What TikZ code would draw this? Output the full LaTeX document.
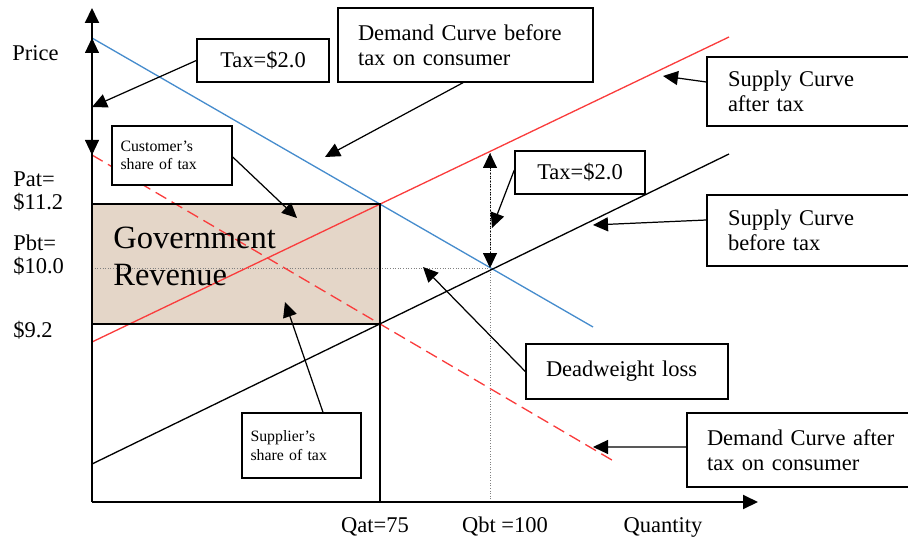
\documentclass[tikz,border=0pt]{standalone}
\usepackage{fontspec}
\setmainfont{Liberation Serif}
\usetikzlibrary{arrows.meta,positioning}
\definecolor{demandblue}{RGB}{70,140,205}
\definecolor{taxred}{RGB}{250,60,60}
\definecolor{revbeige}{RGB}{228,214,200}

\begin{document}
\begin{tikzpicture}[
    >={Triangle[length=0.3cm,width=0.28cm]},
    every node/.style={font=\fontsize{12.8}{14.2}\selectfont},
    curvebox/.style={draw,fill=white,line width=0.8pt,align=left,inner xsep=0.4cm,inner ysep=0pt},
    notebox/.style={curvebox,font=\fontsize{9}{10.5}\selectfont,inner xsep=0.17cm},
    pointer/.style={->,line width=0.7pt},
    guide/.style={densely dotted,gray,line width=0.5pt},
    axislabel/.style={inner sep=0pt,align=left,font=\fontsize{12.8}{13}\selectfont}
  ]
  \useasboundingbox (-1.84,-0.78) rectangle (16.32,10.04);

  % government revenue area
  \fill[revbeige] (0,3.56) rectangle (5.76,5.96);
  \draw[guide] (0,4.68) -- (7.96,4.68);
  \draw[guide] (7.96,0) -- (7.96,6.98);
  \draw[line width=0.6pt] (5.76,5.96) -- (5.76,0);

  % demand and supply lines
  \draw[demandblue,line width=0.75pt] (0,9.28) -- (10.02,3.50);
  \draw[taxred,line width=0.75pt] (0,3.2) -- (12.74,9.30);
  \draw[line width=0.75pt] (0,0.76) -- (12.74,6.96);
  \draw[taxred,dash pattern=on 7pt off 3.5pt,line width=0.75pt] (0,6.94) -- (10.5,0.78);
  \draw[line width=1.2pt] (0,3.56) rectangle (5.76,5.96);

  % axes
  \draw[->,line width=1.1pt] (0,0) -- (0,9.88);
  \draw[->,line width=1.1pt] (0,0) -- (13.32,0);

  % tax wedges
  \draw[<->,guide,black] (0,9.28) -- (0,6.94);
  \draw[<->,guide,black] (7.96,6.98) -- (7.96,4.68);

  % axis labels
  \node[axislabel,anchor=west] (price) at (-1.6,8.98) {Price};
  \node[axislabel,anchor=west] (pat) at (-1.58,6.21) {Pat=\\\$11.2};
  \node[axislabel,anchor=west] (pbt) at (-1.58,4.94) {Pbt=\\\$10.0};
  \node[axislabel,anchor=west] (pnine) at (-1.58,3.44) {\$9.2};
  \node[axislabel] (qat) at (5.66,-0.5) {Qat=75};
  \node[axislabel] (qbt) at (8.26,-0.5) {Qbt =100};
  \node[axislabel] (qty) at (11.42,-0.5) {Quantity};

  \node[anchor=west,align=left,inner sep=0pt,font=\fontsize{18.5}{21}\selectfont] (gov) at (0.42,4.91) {Government\\Revenue};

  % callout boxes
  \node[curvebox,minimum width=2.64cm,minimum height=0.86cm,align=center] (taxA) at (3.42,8.83) {Tax=\$2.0};
  \node[curvebox,text width=4.3cm,minimum height=1.48cm] (demB) at (7.47,9.14) {Demand Curve before\\tax on consumer};
  \node[curvebox,text width=3.6cm,inner xsep=0.42cm,minimum height=1.38cm] (supA) at (14.52,8.21) {Supply Curve\\after tax};
  \node[curvebox,text width=3.6cm,inner xsep=0.42cm,minimum height=1.42cm] (supB) at (14.52,5.43) {Supply Curve\\before tax};
  \node[curvebox,minimum width=2.6cm,minimum height=0.86cm,align=center] (taxB) at (9.76,6.59) {Tax=\$2.0};
  \node[curvebox,text width=3.24cm,minimum height=1.1cm] (dwl) at (10.7,2.61) {Deadweight loss};
  \node[curvebox,text width=3.9cm,minimum height=1.48cm] (demA) at (14.25,1.04) {Demand Curve after\\tax on consumer};
  \node[notebox,text width=2.06cm,minimum height=1.18cm] (custS) at (1.6,6.93) {Customer's\\share of tax};
  \node[notebox,text width=2.04cm,minimum height=1.3cm] (suppS) at (4.19,1.13) {Supplier's\\share of tax};

  % pointer targets
  \coordinate (taxAtip) at (0,7.9);
  \coordinate (demBtip) at (4.66,6.9);
  \coordinate (supAtip) at (11.42,8.52);
  \coordinate (supBtip) at (10.02,5.54);
  \coordinate (taxBtip) at (8.0,5.48);
  \coordinate (dwltip) at (6.62,4.7);
  \coordinate (demAtip) at (10.02,1.1);
  \coordinate (custStip) at (4.1,5.68);
  \coordinate (suppStip) at (3.86,4.0);

  \draw[pointer] (taxA.west) -- (taxAtip);
  \draw[pointer] (demB.south) ++(-0.05,0) -- (demBtip);
  \draw[pointer] (supA.west) ++(0,0.19) -- (supAtip);
  \draw[pointer] (supB.west) ++(0,0.21) -- (supBtip);
  \draw[pointer] (taxB.west) ++(0,0.05) -- (taxBtip);
  \draw[pointer] (dwl.west) -- (dwltip);
  \draw[pointer] (demA.west) ++(0,0.06) -- (demAtip);
  \draw[pointer] (custS.east) ++(0,-0.03) -- (custStip);
  \draw[pointer] (suppS.north) ++(0.43,0) -- (suppStip);
\end{tikzpicture}
\end{document}
